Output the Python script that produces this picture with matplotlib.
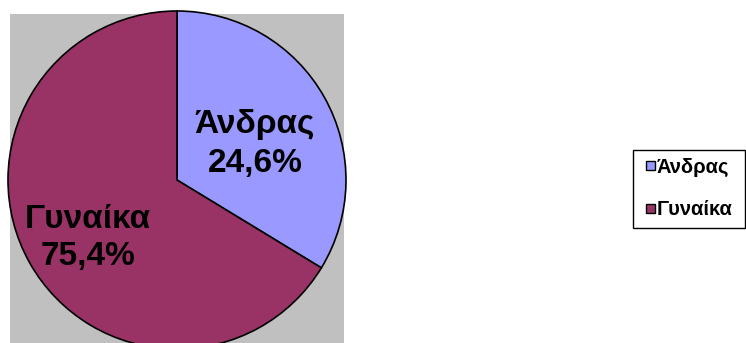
import matplotlib.pyplot as plt
from matplotlib.patches import Rectangle

plt.rcParams['font.family'] = ['Liberation Sans', 'DejaVu Sans']

# data
categories = ['Άνδρας', 'Γυναίκα']
wedge_sizes = [33.7, 66.3]          # drawn slice sizes as they appear
label_pcts = ['24,6%', '75,4%']    # percentages printed on the chart
colors = ['#9999FF', '#993366']

W, H = 746, 343
fig = plt.figure(figsize=(W / 100, H / 100), dpi=100)
ax = fig.add_axes([0, 0, 1, 1])

# grey plot area
ax.add_patch(Rectangle((10, 0), 334, 329, facecolor='#C0C0C0', edgecolor='none', zorder=0))

wedges, _ = ax.pie(wedge_sizes, colors=colors, startangle=90, counterclock=False,
                   center=(177, 163), radius=169, frame=True,
                   wedgeprops=dict(edgecolor='black', linewidth=1.2))
ax.set_xlim(0, W)
ax.set_ylim(0, H)
ax.set_aspect('equal')
ax.axis('off')

# slice labels (x centre, baseline of name, baseline of percentage) in pixels from top
label_pos = [(255, 133, 172), (88, 228, 265)]
for cat, pct, (x, y1, y2) in zip(categories, label_pcts, label_pos):
    ax.text(x, H - y1, cat, ha='center', va='baseline', fontsize=24, fontweight='bold')
    ax.text(x, H - y2, pct, ha='center', va='baseline', fontsize=24, fontweight='bold')

# legend box drawn by hand
ax.add_patch(Rectangle((633, H - 228), 112, 78, facecolor='white', edgecolor='black',
                       linewidth=1, zorder=3))
for i, (cat, c) in enumerate(zip(categories, colors)):
    yc = 165 + 43 * i
    ax.add_patch(Rectangle((646, H - yc - 4.5), 9, 9, facecolor=c, edgecolor='black',
                           linewidth=1, zorder=4))
    ax.text(657, H - (173 + 42 * i), cat, ha='left', va='baseline', fontsize=14.5,
            fontweight='bold', zorder=4)

fig.savefig('out.png', dpi=100)
